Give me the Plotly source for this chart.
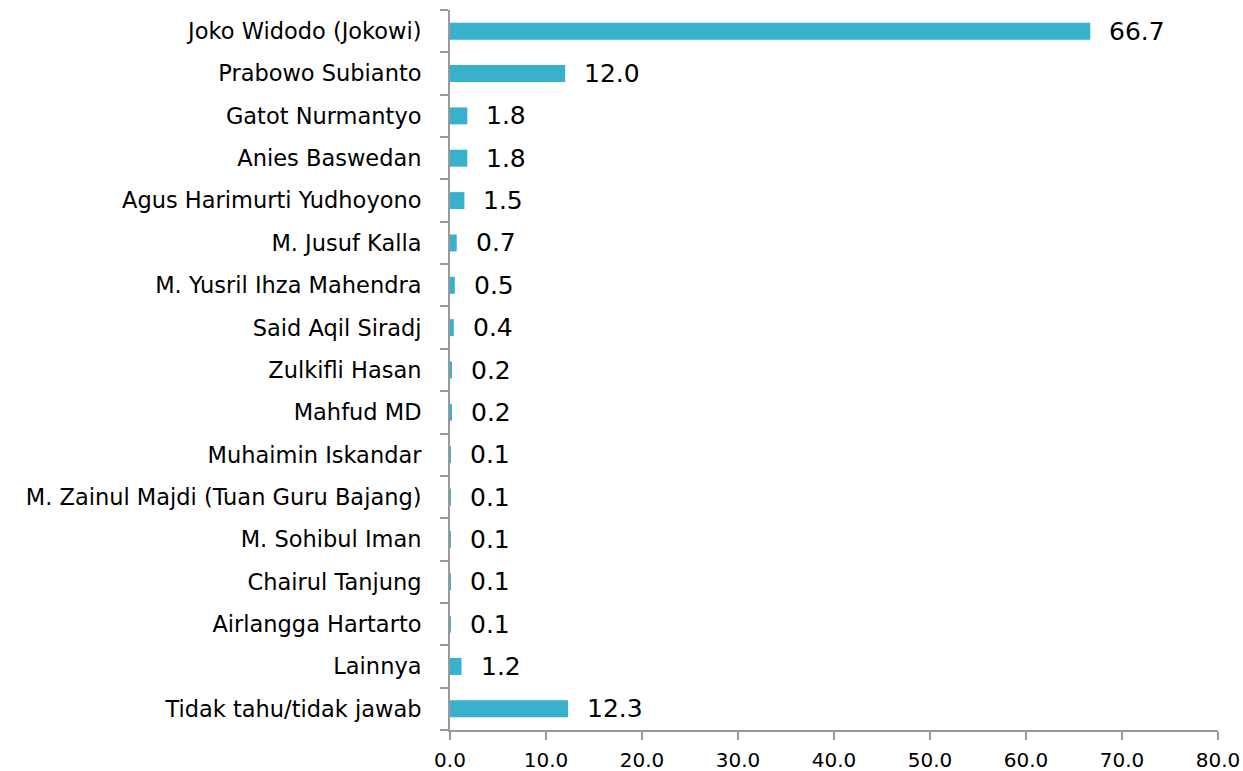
import plotly.graph_objects as go

categories = [
    "Joko Widodo (Jokowi)", "Prabowo Subianto", "Gatot Nurmantyo", "Anies Baswedan",
    "Agus Harimurti Yudhoyono", "M. Jusuf Kalla", "M. Yusril Ihza Mahendra",
    "Said Aqil Siradj", "Zulkifli Hasan", "Mahfud MD", "Muhaimin Iskandar",
    "M. Zainul Majdi (Tuan Guru Bajang)", "M. Sohibul Iman", "Chairul Tanjung",
    "Airlangga Hartarto", "Lainnya", "Tidak tahu/tidak jawab",
]
values = [66.7, 12.0, 1.8, 1.8, 1.5, 0.7, 0.5, 0.4, 0.2, 0.2, 0.1, 0.1, 0.1, 0.1, 0.1, 1.2, 12.3]
tick_vals = [0, 10, 20, 30, 40, 50, 60, 70, 80]
tick_text = ["0.0", "10.0", "20.0", "30.0", "40.0", "50.0", "60.0", "70.0", "80.0"]

FONT = "DejaVu Sans"
fig = go.Figure()
fig.add_trace(go.Bar(
    x=values, y=categories, orientation="h",
    marker=dict(color="#37B1CC", line=dict(width=0)),
    hoverinfo="x+y",
))
for c, v in zip(categories, values):
    fig.add_annotation(x=v, y=c, text=f"{v:.1f}", showarrow=False,
                       xanchor="left", xshift=17, yshift=0,
                       font=dict(family=FONT, size=25, color="#000"))

fig.update_layout(
    width=1243, height=771,
    margin=dict(l=450, r=25, t=10, b=41),
    paper_bgcolor="white", plot_bgcolor="white",
    bargap=0.6, showlegend=False,
    font=dict(family=FONT, color="#000"),
)
fig.update_xaxes(
    range=[0, 80], tickvals=tick_vals, ticktext=tick_text, automargin=False,
    showgrid=False, zeroline=False, showline=True, linecolor="#999", linewidth=2,
    ticks="outside", ticklen=8, tickcolor="#999", tickwidth=2, ticklabelstandoff=3,
    tickfont=dict(family=FONT, size=20, color="#000"),
)
fig.update_yaxes(
    categoryorder="array", categoryarray=categories[::-1], automargin=False,
    showgrid=False, zeroline=False, showline=True, linecolor="#999", linewidth=2,
    ticks="outside", ticklen=8, tickcolor="#999", tickwidth=2, tickson="boundaries",
    tickfont=dict(family=FONT, size=22.5, color="#000"), ticklabelstandoff=22,
)
fig.write_html("out.html", config={"displayModeBar": False},
               post_script="document.body.style.margin='0';document.body.style.overflow='hidden';")
